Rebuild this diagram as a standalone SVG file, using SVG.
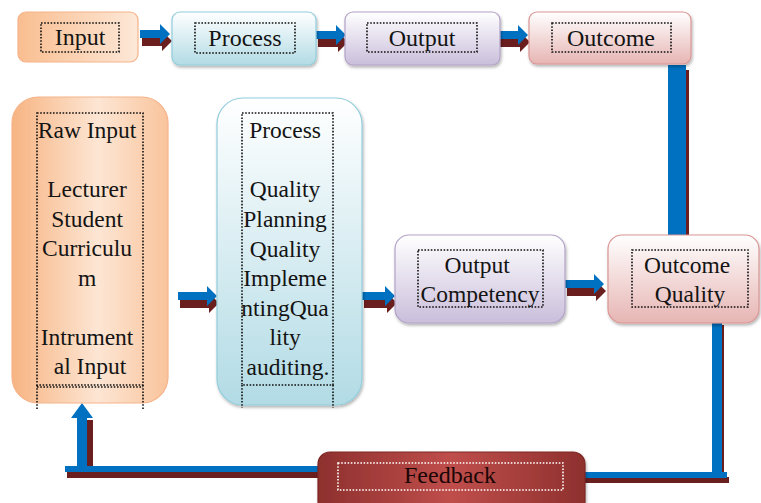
<svg xmlns="http://www.w3.org/2000/svg" width="761" height="503" viewBox="0 0 761 503">
<defs>
<linearGradient id="gOrH" x1="0" y1="0" x2="1" y2="0">
<stop offset="0" stop-color="#F7B482"/><stop offset="0.55" stop-color="#FDE6D4"/><stop offset="1" stop-color="#F9C49C"/>
</linearGradient>
<linearGradient id="gOrT" x1="0" y1="0" x2="1" y2="0">
<stop offset="0" stop-color="#F9BE90"/><stop offset="1" stop-color="#FDE8D8"/>
</linearGradient>
<linearGradient id="gBl" x1="0" y1="0" x2="0" y2="1">
<stop offset="0" stop-color="#FFFFFF"/><stop offset="1" stop-color="#B2DBE5"/>
</linearGradient>
<linearGradient id="gLv" x1="0" y1="0" x2="0" y2="1">
<stop offset="0" stop-color="#FFFFFF"/><stop offset="1" stop-color="#CABEDB"/>
</linearGradient>
<linearGradient id="gPk" x1="0" y1="0" x2="0" y2="1">
<stop offset="0" stop-color="#FFFFFF"/><stop offset="1" stop-color="#E6B5B3"/>
</linearGradient>
<linearGradient id="gFb" x1="0" y1="0" x2="1" y2="0">
<stop offset="0" stop-color="#8E302E"/><stop offset="0.5" stop-color="#BF4E4B"/><stop offset="1" stop-color="#8E302E"/>
</linearGradient>
<filter id="sh" x="-10%" y="-10%" width="120%" height="130%">
<feDropShadow dx="1" dy="2" stdDeviation="1.5" flood-color="#000" flood-opacity="0.3"/>
</filter>
</defs>
<style>
text{font-family:'Liberation Serif','DejaVu Serif',serif;fill:#141414;text-anchor:middle}
.top{font-size:24px}
.big{font-size:23.5px}
.dot{fill:none;stroke:#111;stroke-width:1.6;stroke-dasharray:1.6 1.6}
.dotw{fill:none;stroke:#fff;stroke-width:1.6;stroke-dasharray:1.6 1.6}
.blue{fill:#0070C0}
.shd{fill:#6B1E1E}
</style>

<g id="connectors">
<g transform="translate(140,34)">
<path class="shd" d="M2,2 H22 V-3 L32,7 L22,17 V12 H2 Z"/>
<path class="blue" d="M0,-4 H20 V-10 L30,0 L20,10 V4 H0 Z"/>
</g>
<g transform="translate(316,35)">
<path class="shd" d="M2,2 H22 V-3 L32,7 L22,17 V12 H2 Z"/>
<path class="blue" d="M0,-4 H20 V-10 L30,0 L20,10 V4 H0 Z"/>
</g>
<g transform="translate(498,35)">
<path class="shd" d="M2,2 H22 V-3 L32,7 L22,17 V12 H2 Z"/>
<path class="blue" d="M0,-4 H20 V-10 L30,0 L20,10 V4 H0 Z"/>
</g>
<g transform="translate(178,296)">
<path class="shd" d="M2,2 H31 V-3 L41,7 L31,17 V12 H2 Z"/>
<path class="blue" d="M0,-4 H29 V-10 L39,0 L29,10 V4 H0 Z"/>
</g>
<g transform="translate(362,296)">
<path class="shd" d="M2,2 H25 V-3 L35,7 L25,17 V12 H2 Z"/>
<path class="blue" d="M0,-4 H23 V-10 L33,0 L23,10 V4 H0 Z"/>
</g>
<g transform="translate(565,284)">
<path class="shd" d="M2,2 H31 V-3 L41,7 L31,17 V12 H2 Z"/>
<path class="blue" d="M0,-4 H29 V-10 L39,0 L29,10 V4 H0 Z"/>
</g>
<rect class="shd" x="671" y="70" width="18" height="172"/>
<rect class="blue" x="668" y="65" width="18" height="172"/>
<rect class="shd" x="714" y="325" width="10" height="158"/>
<rect class="shd" x="585" y="477" width="144" height="6"/>
<rect class="blue" x="712" y="323" width="10" height="155"/>
<rect class="blue" x="585" y="472" width="142" height="6"/>
<rect class="shd" x="67" y="472" width="253" height="6"/>
<rect class="shd" x="84" y="420" width="9" height="52"/>
<rect class="blue" x="65" y="466" width="255" height="6"/>
<rect class="blue" x="77" y="416" width="10" height="56"/>
<path class="blue" d="M71,418 L82,403 L93,418 Z"/>
</g>

<g id="input">
<rect x="18" y="12" width="120" height="50" rx="8" fill="url(#gOrT)" stroke="#F6B38A" stroke-width="1.2"/>
<rect class="dot" x="41" y="23" width="78" height="29"/>
<text class="top" x="80" y="45">Input</text>
</g>
<g id="process">
<rect x="172" y="12" width="144" height="53" rx="8" fill="url(#gBl)" stroke="#92CDDC" stroke-width="1.2" filter="url(#sh)"/>
<rect class="dot" x="195" y="23" width="100" height="30"/>
<text class="top" x="245" y="46">Process</text>
</g>
<g id="output">
<rect x="345" y="12" width="155" height="53" rx="8" fill="url(#gLv)" stroke="#B3A2C7" stroke-width="1.2" filter="url(#sh)"/>
<rect class="dot" x="367" y="23" width="110" height="29"/>
<text class="top" x="422" y="46">Output</text>
</g>
<g id="outcome">
<rect x="529" y="12" width="162" height="52" rx="8" fill="url(#gPk)" stroke="#D99694" stroke-width="1.2" filter="url(#sh)"/>
<rect class="dot" x="552" y="23" width="119" height="29"/>
<text class="top" x="611" y="46">Outcome</text>
</g>

<g id="raw-input">
<rect x="12" y="97" width="156" height="306" rx="26" fill="url(#gOrH)" stroke="#F6B38A" stroke-width="1.2"/>
<rect class="dot" x="37" y="113" width="106" height="272"/>
<path class="dot" d="M37,385 V410 M143,385 V410 M37,387 H143"/>
<text class="big">
<tspan x="90" y="138">Raw Input</tspan>
<tspan x="90" y="197">Lecturer</tspan>
<tspan x="90" y="227">Student</tspan>
<tspan x="90" y="256">Curriculu</tspan>
<tspan x="90" y="286">m</tspan>
<tspan x="90" y="345">Intrument</tspan>
<tspan x="90" y="374">al Input</tspan>
</text>
</g>

<g id="process-detail">
<rect x="217" y="98" width="145" height="307" rx="26" fill="url(#gBl)" stroke="#92CDDC" stroke-width="1.2" filter="url(#sh)"/>
<rect class="dot" x="242" y="113" width="91" height="272"/>
<path class="dot" d="M242,385 V408 M333,385 V408"/>
<text class="big">
<tspan x="288" y="138">Process</tspan>
<tspan x="288" y="197">Quality</tspan>
<tspan x="288" y="227">Planning</tspan>
<tspan x="288" y="257">Quality</tspan>
<tspan x="288" y="286">Impleme</tspan>
<tspan x="288" y="316">ntingQua</tspan>
<tspan x="288" y="345">lity</tspan>
<tspan x="288" y="375">auditing.</tspan>
</text>
</g>

<g id="output-competency">
<rect x="395" y="235" width="170" height="88" rx="14" fill="url(#gLv)" stroke="#B3A2C7" stroke-width="1.2" filter="url(#sh)"/>
<rect class="dot" x="418" y="250" width="125" height="57"/>
<text class="big">
<tspan x="480" y="273">Output</tspan>
<tspan x="480" y="302">Competency</tspan>
</text>
</g>

<g id="outcome-quality">
<rect x="608" y="235" width="151" height="88" rx="14" fill="url(#gPk)" stroke="#D99694" stroke-width="1.2" filter="url(#sh)"/>
<rect class="dot" x="632" y="250" width="116" height="57"/>
<text class="big">
<tspan x="690" y="273">Outcome</tspan>
<tspan x="690" y="302">Quality</tspan>
</text>
</g>

<g id="feedback">
<rect x="318" y="452" width="267" height="62" rx="12" fill="url(#gFb)" stroke="#7E2826" stroke-width="1.2" filter="url(#sh)"/>
<rect class="dotw" x="338" y="463" width="225" height="27"/>
<text x="450" y="483" style="font-size:24px;fill:#1a0505">Feedback</text>
</g>
</svg>
